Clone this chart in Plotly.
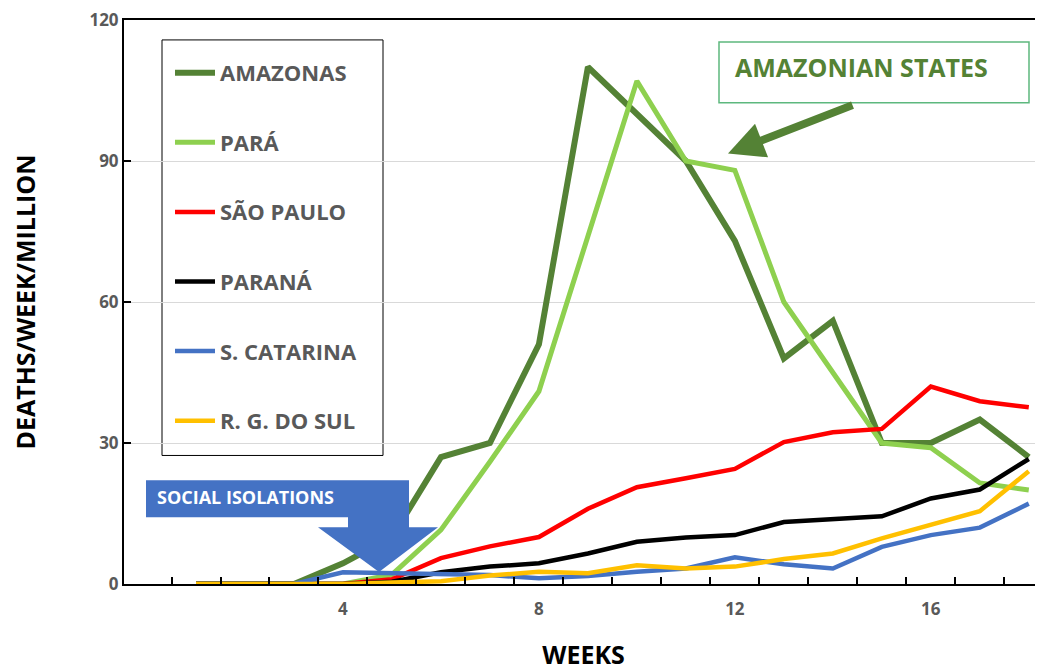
import plotly.graph_objects as go

weeks = list(range(1, 19))
amazonas = [0, 0, 0, 4.4, 10, 27, 30, 51, 110, 100, 90, 73, 48, 56, 30, 30, 35, 27]
para = [0, 0, 0, 0, 2, 11.5, 26, 41, 74, 107, 90, 88, 60, 45, 30, 29, 21.5, 20]
sao_paulo = [0, 0, 0, 0, 1, 5.5, 8, 10, 16, 20.6, 22.5, 24.5, 30.2, 32.3, 33, 42, 38.9, 37.6]
parana = [0, 0, 0, 0, 0.5, 2.5, 3.7, 4.4, 6.5, 9, 9.9, 10.4, 13.2, 13.9, 14.4, 18.2, 20.1, 26.6]
s_catarina = [0, 0, 0, 2.5, 2.3, 2, 1.9, 1.2, 1.7, 2.6, 3.3, 5.7, 4.2, 3.3, 7.9, 10.4, 12, 17.1]
rg_do_sul = [0, 0, 0, 0, 0.3, 0.6, 1.8, 2.6, 2.3, 4, 3.3, 3.7, 5.3, 6.5, 9.7, 12.5, 15.5, 24]

series_names = ["AMAZONAS", "PARÁ", "SÃO PAULO", "PARANÁ", "S. CATARINA", "R. G. DO SUL"]
series_values = [amazonas, para, sao_paulo, parana, s_catarina, rg_do_sul]
series_colors = ["#548235", "#8ED04F", "#FF0000", "#000000", "#4472C4", "#FFC000"]
series_widths = [6, 5, 4.5, 4.5, 4.5, 4.5]

x_tick_vals = [4, 8, 12, 16]
y_tick_vals = [0, 30, 60, 90, 120]

OFF = 8  # page body margin
W, H = 1035, 663
L, R, T = 116, 0, 10
B = H - (584 - OFF)
PW, PH = W - L - R, H - T - B


def px(x):
    return (x - OFF - L) / PW


def py(y):
    return (H - B - (y - OFF)) / PH


FONT = "Open Sans"
GRAY = "#595959"

fig = go.Figure()
for i, (name, vals, col, lw) in enumerate(zip(series_names, series_values, series_colors, series_widths)):
    fig.add_trace(go.Scatter(
        x=weeks, y=vals, mode="lines", name=name,
        line=dict(color=col, width=lw),
        legendgroup=f"g{i}",
    ))

shapes = []
shapes.append(dict(type="rect", xref="paper", yref="paper",
                   x0=px(162), x1=px(383), y0=py(455), y1=py(38),
                   line=dict(color="#000000", width=1), fillcolor="white", layer="below"))
shapes.append(dict(type="rect", xref="paper", yref="paper",
                   x0=px(719), x1=px(1029), y0=py(101), y1=py(40),
                   line=dict(color="#5DB87E", width=1.5), fillcolor="rgba(0,0,0,0)", layer="above"))
pts = [(146, 480), (409, 480), (409, 517), (409, 527), (438, 527), (379, 572),
       (318, 527), (348, 527), (348, 517), (146, 517)]
path = "M " + " L ".join(f"{px(a):.5f},{py(b):.5f}" for a, b in pts) + " Z"
shapes.append(dict(type="path", xref="paper", yref="paper", path=path,
                   fillcolor="#4472C4", line=dict(color="#4472C4", width=0), layer="above"))

annotations = [
    dict(xref="paper", yref="paper", x=px(733), y=py(65), xanchor="left", yanchor="middle",
         text="<b>AMAZONIAN STATES</b>", showarrow=False,
         font=dict(family=FONT, size=25, color="#548235")),
    dict(xref="paper", yref="paper", x=px(728), y=py(152), ax=126, ay=-49, axref="pixel", ayref="pixel",
         text="", showarrow=True, arrowhead=2, arrowsize=0.9, arrowwidth=8, arrowcolor="#548235"),
    dict(xref="paper", yref="paper", x=px(155), y=py(497), xanchor="left", yanchor="middle",
         text="<b>SOCIAL ISOLATIONS</b>", showarrow=False,
         font=dict(family=FONT, size=18, color="#FFFFFF")),
]

fig.update_layout(
    width=W, height=H,
    margin=dict(l=L, r=R, t=T, b=B, pad=0),
    paper_bgcolor="white", plot_bgcolor="white",
    font=dict(family=FONT, color=GRAY),
    shapes=shapes, annotations=annotations,
    showlegend=True,
    legend=dict(x=px(170), y=py(50), xanchor="left", yanchor="top",
                bgcolor="rgba(0,0,0,0)", borderwidth=0,
                font=dict(family=FONT, size=22, color=GRAY, weight="bold"),
                tracegroupgap=38, itemwidth=40),
    xaxis=dict(
        range=[-0.47, 18.29], showgrid=False, zeroline=False,
        showline=True, linecolor="#000000", linewidth=2, mirror=True,
        tickmode="array", tickvals=x_tick_vals, ticktext=[str(v) for v in x_tick_vals],
        ticks="", ticklabelstandoff=9,
        tickfont=dict(family=FONT, size=17, color=GRAY, weight="bold"),
        minor=dict(tickmode="array", tickvals=[w + 0.5 for w in range(0, 19)],
                   ticks="inside", ticklen=7, tickwidth=1.5, tickcolor="#000000"),
        title=dict(text="WEEKS", font=dict(family=FONT, size=25, color="#000000", weight="bold"),
                   standoff=30),
    ),
    yaxis=dict(
        range=[0, 120], tickvals=y_tick_vals, showgrid=True, gridcolor="#D9D9D9", gridwidth=1,
        zeroline=False, showline=True, linecolor="#000000", linewidth=2,
        ticks="inside", ticklen=7, tickwidth=1.5, tickcolor="#000000",
        ticklabeloverflow="allow",
        tickfont=dict(family=FONT, size=17, color=GRAY, weight="bold"),
        title=dict(text="DEATHS/WEEK/MILLION", font=dict(family=FONT, size=25, color="#000000", weight="bold"),
                   standoff=48),
    ),
)

fig.write_html("out.html")
